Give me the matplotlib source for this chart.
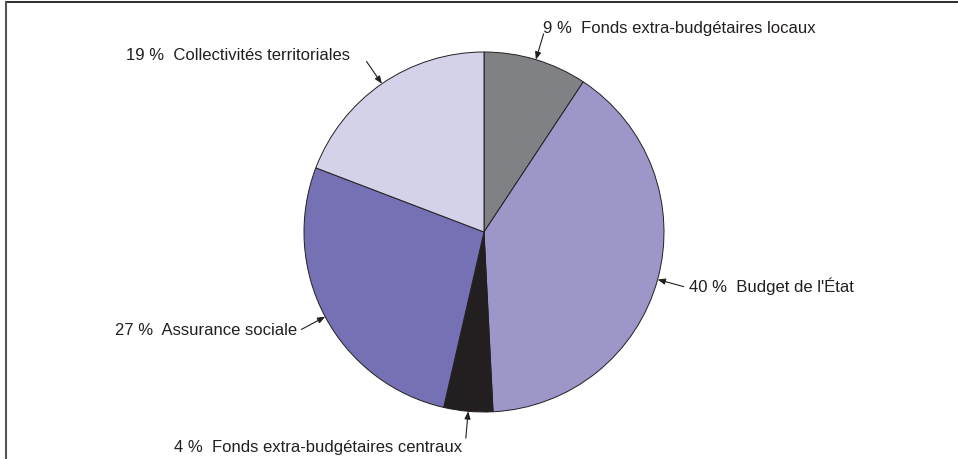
import numpy as np
import matplotlib.pyplot as plt
from matplotlib.lines import Line2D

plt.rcParams['font.family'] = ['Liberation Sans', 'DejaVu Sans']

# parts of the total, clockwise from twelve o'clock
labels = ["Fonds extra-budgétaires locaux", "Budget de l'État",
          "Fonds extra-budgétaires centraux", "Assurance sociale",
          "Collectivités territoriales"]
shares = [9.3, 39.9, 4.4, 27.2, 19.2]
colors = ["#808184", "#9c96c9", "#231f20", "#7670b4", "#d4d2e8"]

W, H = 958, 460
cx, cy, R = 484, H - 233, 180

# where each caption sits (x, y from top) and how it is anchored
label_pos = [(543, 28.5, 'left'), (689, 286.5, 'left'), (462, 447.5, 'right'),
             (297, 330.5, 'right'), (350, 56, 'right')]

fig = plt.figure(figsize=(W / 100, H / 100), dpi=100)
ax = fig.add_axes([0, 0, 1, 1])

wedges, _ = ax.pie(shares, colors=colors, startangle=90, counterclock=False,
                   center=(cx, cy), radius=R, frame=True,
                   wedgeprops=dict(edgecolor='#231f20', linewidth=0.7))
ax.set_xlim(0, W)
ax.set_ylim(0, H)
ax.set_aspect('equal')
ax.axis('off')

for w, lab, val, (tx, ty, ha) in zip(wedges, labels, shares, label_pos):
    mid = np.deg2rad((w.theta1 + w.theta2) / 2)
    head = (cx + R * np.cos(mid), cy + R * np.sin(mid))
    tail = (cx + (R + 27) * np.cos(mid), cy + (R + 27) * np.sin(mid))
    ax.annotate('', xy=head, xytext=tail,
                arrowprops=dict(arrowstyle='-|>,head_length=0.5,head_width=0.2',
                                color='#231f20', lw=0.8,
                                mutation_scale=9, shrinkA=0, shrinkB=0))
    ax.text(tx, H - ty, f"{round(val)} %  {lab}", ha=ha, va='center',
            fontsize=12, color='#231f20')

# frame lines along the top and left edges
fig.add_artist(Line2D([6 / W, 1], [1 - 3 / H, 1 - 3 / H], transform=fig.transFigure,
                      color='#2b2b2b', lw=1.4))
fig.add_artist(Line2D([6 / W, 6 / W], [0, 1 - 3 / H], transform=fig.transFigure,
                      color='#555555', lw=1.5))

fig.savefig('out.png', dpi=100)
